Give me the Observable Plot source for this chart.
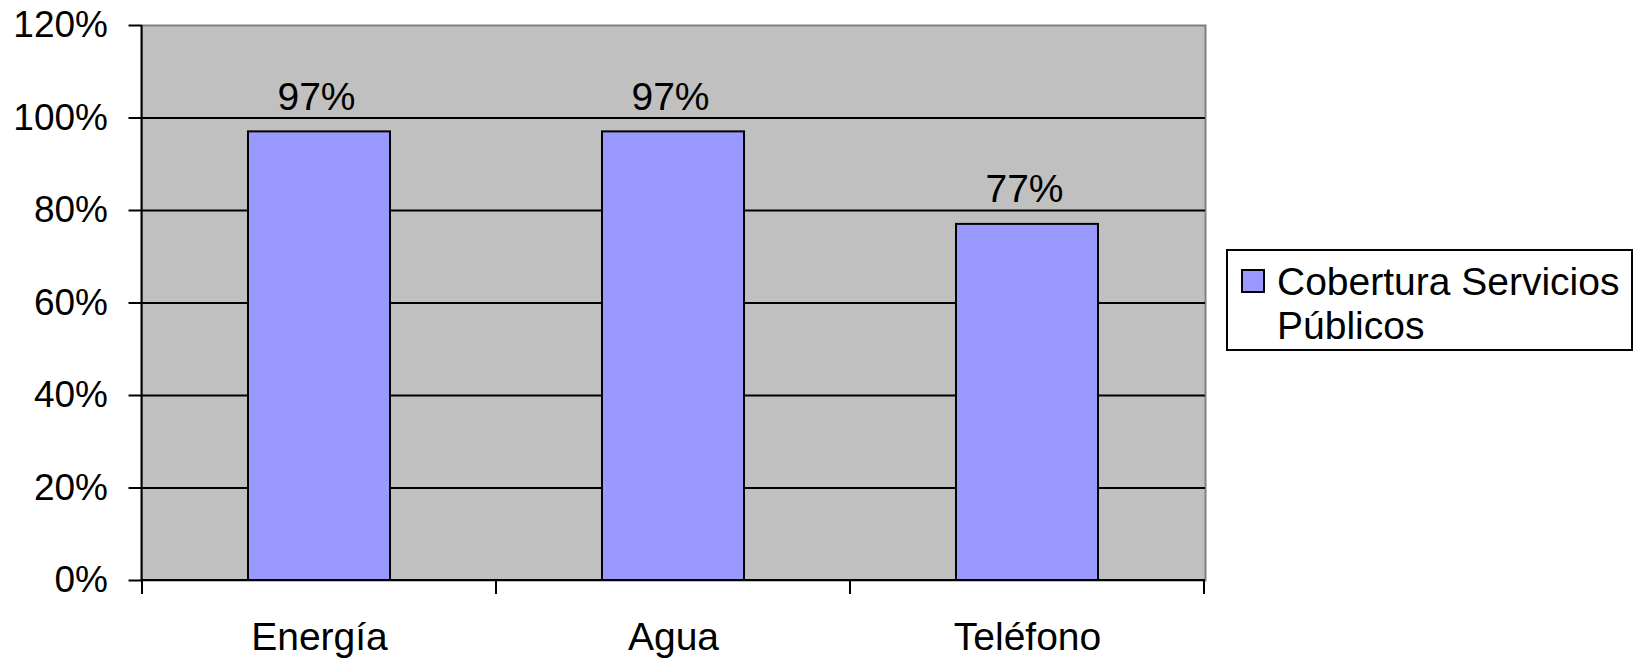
<!DOCTYPE html>
<html>
<head>
<meta charset="utf-8">
<script src="https://cdn.jsdelivr.net/npm/d3@7"></script>
<script src="https://cdn.jsdelivr.net/npm/@observablehq/plot@0.6"></script>
<style>
  body { margin: 0; background: #fff; font-family: "Liberation Sans", Arial, sans-serif; }
  #wrap { position: relative; width: 1638px; height: 663px; }
  #wrap svg { position: absolute; left: 0; top: 0; }
  #legend { position: absolute; left: 1226px; top: 249px; width: 407px; height: 102px;
            box-sizing: border-box; border: 2px solid #000; background: #fff; }
  #legend .sw { position: absolute; left: 13px; top: 18px; width: 24px; height: 24px;
            box-sizing: border-box; border: 2px solid #000; background: #9999FF; }
  #legend .tx { position: absolute; left: 49px; top: 9px; font-size: 39px; line-height: 44px;
            color: #000; white-space: nowrap; }
</style>
</head>
<body>
<div id="wrap"></div>
<script>
const categories = ["Energía", "Agua", "Teléfono"];
const values = [0.97, 0.97, 0.77];
const yTicks = [0, 0.2, 0.4, 0.6, 0.8, 1.0, 1.2];
const gridTicks = [0.2, 0.4, 0.6, 0.8, 1.0];
const seriesName = ["Cobertura Servicios", "Públicos"];

const data = categories.map((c, i) => ({category: c, value: values[i]}));

const axisLines = (index, scales, vals, dims) => {
  const g = d3.create("svg:g");
  const x = scales.x;
  const step = x(categories[1]) - x(categories[0]);
  const bw = x.bandwidth ? x.bandwidth() : step * 0.4;
  const y0 = dims.height - dims.marginBottom;
  const bounds = categories.map(c => x(c) + bw / 2 - step / 2);
  bounds.push(x(categories[categories.length - 1]) + bw / 2 + step / 2);
  for (const b of bounds) {
    g.append("line").attr("x1", b).attr("x2", b).attr("y1", y0).attr("y2", y0 + 14)
      .attr("stroke", "black").attr("stroke-width", 2);
  }
  g.append("line").attr("x1", dims.marginLeft).attr("x2", dims.marginLeft)
    .attr("y1", dims.marginTop).attr("y2", y0).attr("stroke", "black").attr("stroke-width", 2);
  g.append("line").attr("x1", dims.marginLeft).attr("x2", dims.width - dims.marginRight)
    .attr("y1", y0).attr("y2", y0).attr("stroke", "black").attr("stroke-width", 2);
  return g.node();
};

const chart = Plot.plot({
  width: 1638,
  height: 663,
  marginLeft: 141.5,
  marginRight: 433,
  marginTop: 25,
  marginBottom: 83,
  style: {fontFamily: '"Liberation Sans", Arial, sans-serif', fontSize: "37px", color: "black", background: "transparent"},
  x: {domain: categories, paddingInner: 0.6, paddingOuter: 0.3, label: null},
  y: {domain: [0, 1.2], label: null},
  marks: [
    Plot.frame({fill: "#C0C0C0", stroke: "#808080", strokeWidth: 2}),
    Plot.gridY(gridTicks, {stroke: "black", strokeOpacity: 1, strokeWidth: 2}),
    Plot.barY(data, {x: "category", y: "value", fill: "#9999FF", stroke: "black", strokeWidth: 2}),
    Plot.text(data, {x: "category", y: "value", text: d => `${Math.round(d.value * 100)}%`,
      lineAnchor: "bottom", dy: -22, dx: -3, fontSize: 39, fill: "black"}),
    Plot.axisY({ticks: yTicks, tickFormat: d => `${Math.round(d * 100)}%`, tickSize: 13, tickPadding: 21,
      stroke: "black", strokeWidth: 2, fill: "black", fontSize: 37}),
    Plot.axisX({tickSize: 0, tickPadding: 42, fill: "black", fontSize: 39}),
    axisLines
  ]
});

const wrap = document.getElementById("wrap");
wrap.appendChild(chart);

const legend = document.createElement("div");
legend.id = "legend";
legend.innerHTML = `<div class="sw"></div><div class="tx">${seriesName.join("<br>")}</div>`;
wrap.appendChild(legend);
</script>
</body>
</html>
